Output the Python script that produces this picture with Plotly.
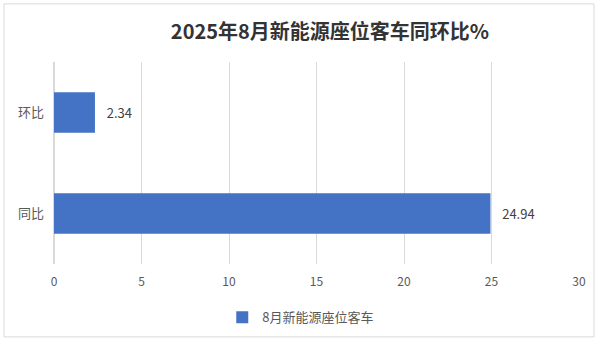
import plotly.graph_objects as go

categories = ["同比", "环比"]
values = [24.94, 2.34]
series_name = "8月新能源座位客车"
title_text = "2025年8月新能源座位客车同环比%"
x_ticks = [0, 5, 10, 15, 20, 25, 30]

font_family = "Noto Sans CJK SC, Microsoft YaHei, sans-serif"

fig = go.Figure()
fig.add_trace(go.Bar(
    y=categories,
    x=values,
    orientation="h",
    name=series_name,
    marker=dict(color="#4472C4", line=dict(width=0)),
    width=0.4,
    texttemplate="   %{x:.2f}",
    textposition="outside",
    textfont=dict(size=13, color="#404040", family=font_family),
    cliponaxis=False,
    showlegend=True,
))

fig.update_layout(
    width=600, height=344,
    margin=dict(l=54, r=21, t=62, b=77),
    paper_bgcolor="white",
    plot_bgcolor="white",
    font=dict(family=font_family, color="#595959", size=11),
    title=dict(text="<b>" + title_text + "</b>", x=0.55, xanchor="center",
               y=1 - 32 / 344, yanchor="middle",
               font=dict(size=20, color="#333333", family=font_family)),
    xaxis=dict(range=[0, 30], tickvals=x_ticks, showgrid=True, gridcolor="#d9d9d9",
               gridwidth=1, zeroline=True, zerolinecolor="#d9d9d9", showline=False,
               ticks="", tickfont=dict(size=12, color="#595959"), ticklabelstandoff=9,
               fixedrange=True),
    yaxis=dict(categoryorder="array", categoryarray=categories, showgrid=False,
               ticks="", tickfont=dict(size=13, color="#595959"), ticklabelstandoff=9,
               fixedrange=True),
    legend=dict(orientation="h", x=0.47, xanchor="center", y=-0.19, yanchor="top",
                font=dict(size=13, color="#595959"), itemwidth=30),
    showlegend=True,
    shapes=[dict(type="rect", xref="paper", yref="paper",
                 x0=-50 / 525, x1=1 + 15 / 525, y0=-74 / 205, y1=1 + 59 / 205,
                 line=dict(color="#d9d9d9", width=1), fillcolor="rgba(0,0,0,0)",
                 layer="below")],
)

fig.write_html("out.html")
